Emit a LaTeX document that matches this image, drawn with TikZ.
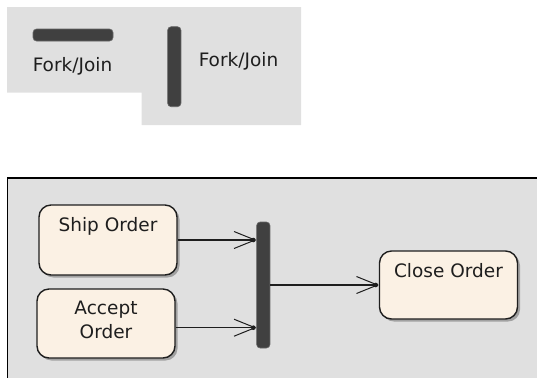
\documentclass[tikz,border=0pt]{standalone}
\usepackage{fontspec}
\setmainfont{DejaVu Sans}
\usetikzlibrary{arrows.meta,shadows}
\definecolor{panelgray}{HTML}{E0E0E0}
\definecolor{barcol}{HTML}{404040}
\definecolor{cream}{HTML}{FBF1E4}
\definecolor{inkcol}{HTML}{1E1E1E}
\tikzset{
  lbl/.style={inner sep=0pt, text=inkcol, font=\fontsize{18.5bp}{24.5bp}\selectfont, align=center},
  forkbar/.style={draw=barcol!80, line width=0.6bp, fill=barcol, rounded corners=3.5bp, inner sep=0pt},
  actbox/.style={draw=inkcol, line width=1.4bp, fill=cream, rounded corners=12bp,
    minimum width=138bp, inner sep=0pt,
    drop shadow={shadow xshift=2.5bp, shadow yshift=-2.5bp, fill=black, opacity=0.28}},
  flow/.style={draw=inkcol, line width=1.2bp, -{Straight Barb[length=21bp,width=17bp,line width=1bp]}},
  tipdot/.style={fill=inkcol}
}
\begin{document}
\begin{tikzpicture}[x=1bp,y=-1bp]
\useasboundingbox (0,0) rectangle (537,377);
\clip (0,0) rectangle (537,377);
% top legend panels
\fill[panelgray] (7,7) -- (301,7) -- (301,125) -- (141.7,125) -- (141.7,92.7) -- (7,92.7) -- cycle;
\node[forkbar, minimum width=80bp, minimum height=12bp] (hbar) at (73,35) {};
\node[lbl] (hlbl) at (72.5,66.7) {Fork/Join};
\node[forkbar, minimum width=13.3bp, minimum height=80bp] (vbar) at (174.3,66.7) {};
\node[lbl] (vlbl) at (238.5,61.7) {Fork/Join};
% diagram frame
\draw[fill=panelgray, draw=black, line width=1.6bp] (7.5,178) rectangle (545,385);
% activities
\node[actbox, minimum height=70bp] (ship) at (108,240) {};
\node[lbl, anchor=base] (shiptext) at ([yshift=-27bp]ship.north) {Ship Order};
\node[actbox, minimum height=69bp] (accept) at (106,323.5) {};
\node[lbl] (accepttext) at (106,320) {Accept\\Order};
\node[actbox, minimum height=68bp] (close) at (448.5,285) {};
\node[lbl, anchor=base] (closetext) at ([yshift=-27bp]close.north) {Close Order};
% join bar
\node[forkbar, minimum width=13.3bp, minimum height=126bp] (bar) at (263.3,285) {};
% connectors
\coordinate (t1) at (ship.east -| bar.west);
\coordinate (a1) at ([yshift=-4.2bp]accept.east);
\coordinate (t2) at (a1 -| bar.west);
\draw[flow] (ship.east) -- (t1);
\draw[flow] (a1) -- (t2);
\draw[flow] (bar.east) -- (close.west);
\fill[tipdot] ([xshift=-3bp]t1) circle (2.3bp);
\fill[tipdot] ([xshift=-3bp]t2) circle (2.3bp);
\fill[tipdot] ([xshift=-3bp]close.west) circle (2.3bp);
\end{tikzpicture}
\end{document}
